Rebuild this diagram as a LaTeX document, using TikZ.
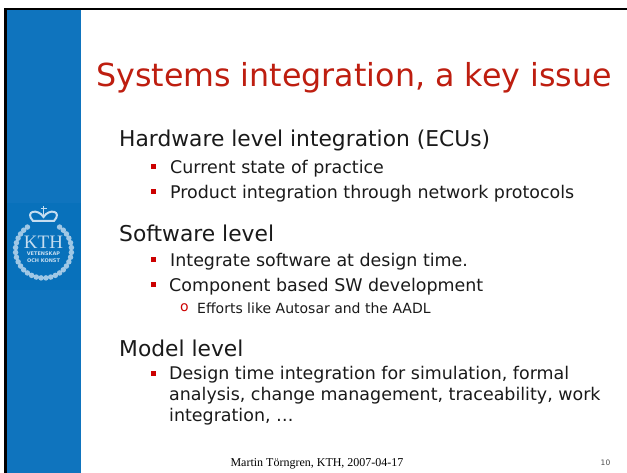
\documentclass[tikz,border=0pt]{standalone}
\usepackage{fontspec}
\setmainfont{DejaVu Sans}
\newfontfamily\timesf{Liberation Serif}
\definecolor{sidebar}{HTML}{0F74BE}
\definecolor{sidelogo}{HTML}{0871BB}
\definecolor{titlered}{HTML}{BE1E10}
\definecolor{bodytxt}{HTML}{1A1A1A}
\definecolor{bul}{HTML}{CC0000}
\definecolor{logow}{HTML}{C5DDF0}
\tikzset{
 x=1pt,y=-1pt,
 lev1/.style={anchor=west,inner sep=0pt,text=bodytxt,font=\fontsize{21.8}{26}\selectfont},
 lev2/.style={anchor=west,inner sep=0pt,text=bodytxt,font=\fontsize{17.45}{21}\selectfont,align=left},
 lev3/.style={anchor=west,inner sep=0pt,text=bodytxt,font=\fontsize{14}{17}\selectfont},
 bulletm/.style={fill=bul,draw=none,minimum size=5pt,inner sep=0pt},
 wreath/.style={fill=logow,draw=none,circle,minimum size=5.5pt,inner sep=0pt,opacity=0.8},
 logotext/.style={text=logow,inner sep=0pt,text depth=0pt}
}
\begin{document}
\begin{tikzpicture}
\useasboundingbox (0,0) rectangle (627,473);
\fill[white] (0,0) rectangle (627,473);
\fill[sidebar] (7,10) rectangle (81,473);
\fill[sidelogo] (7,203) rectangle (81,290);
\fill[black] (4,8) rectangle (627,10.5);
\fill[black] (4,8) rectangle (7,473);
\node[anchor=west,inner sep=0pt,text=titlered,font=\fontsize{31.7}{38}\selectfont] (title) at (96,78) {Systems integration, a key issue};
\node[lev1] (a) at (119,140) {Hardware level integration (ECUs)};
\node[bulletm] (ba1) at (153.5,166.5) {};
\node[lev2] (a1) at (170,168.5) {Current state of practice};
\node[bulletm] (ba2) at (153.5,191.5) {};
\node[lev2] (a2) at (170,193.5) {Product integration through network protocols};
\node[lev1] (b) at (119,233) {Software level};
\node[bulletm] (bb1) at (153.5,259.5) {};
\node[lev2] (b1) at (170,261.5) {Integrate software at design time.};
\node[bulletm] (bb2) at (153.5,284.5) {};
\node[lev2] (b2) at (169,286.5) {Component based SW development};
\node[anchor=west,inner sep=0pt,text=bul,font=\fontsize{14}{17}\selectfont] (bb3) at (180,308) {o};
\node[lev3] (b3) at (197,308) {Efforts like Autosar and the AADL};
\node[lev1] (c) at (119,348) {Model level};
\node[bulletm] (bc1) at (153.5,373.5) {};
\node[lev2,anchor=north west] (c1) at (169,366.5) {Design time integration for simulation, formal\\analysis, change management, traceability, work\\integration, …};
\node[font=\timesf\fontsize{12}{14}\selectfont,inner sep=0pt] (foot) at (317,464) {Martin Törngren, KTH, 2007-04-17};
\node[font=\fontsize{7.5}{9}\selectfont,inner sep=0pt,text=black!70] (num) at (605.5,463) {10};
% logo
\foreach \a in {-55,-45,...,235}{
  \node[wreath] at ({43.5+28*cos(\a)},{250+28*sin(\a)}) {};
}
\node[logotext,text height=12pt,font=\timesf\fontsize{19}{20}\selectfont] (kth) at (43.5,243) {KTH};
\node[logotext,text height=4pt,font=\bfseries\fontsize{5}{6}\selectfont] (v1) at (43.5,254) {VETENSKAP};
\node[logotext,text height=4pt,font=\bfseries\fontsize{5}{6}\selectfont] (v2) at (43.5,261) {OCH KONST};
\draw[logow,line width=2pt] (33,221) .. controls (24,211) and (38,208) .. (43.5,217) .. controls (49,208) and (63,211) .. (54,221) -- cycle;
\draw[logow,line width=1.4pt] (43.5,206) -- (43.5,218);
\draw[logow,line width=1pt] (40.5,209) -- (46.5,209);
\end{tikzpicture}
\end{document}
